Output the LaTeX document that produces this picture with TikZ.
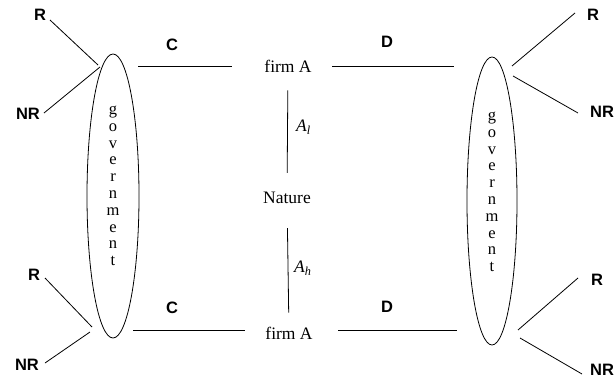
\documentclass[tikz,border=0pt]{standalone}
\usepackage{fontspec}
\setmainfont{Liberation Serif}
\setsansfont{Liberation Sans}
\usetikzlibrary{shapes.geometric}
\begin{document}
\begin{tikzpicture}[x=1pt,y=-1pt,
  lbl/.style={font=\sffamily\bfseries\fontsize{16.5}{16.5}\selectfont, inner sep=0},
  txt/.style={font=\fontsize{17.5}{17.5}\selectfont, inner sep=0},
  govtxt/.style={font=\fontsize{16.5}{16.8}\selectfont, inner sep=0, align=center},
  gov/.style={draw, ellipse, inner sep=0, line width=0.8},
  ln/.style={line width=0.8}]
\useasboundingbox (0,0) rectangle (616,383);
% governments
\node[gov, minimum width=52, minimum height=284] (gL) at (113,196) {};
\node[gov, minimum width=50, minimum height=288] (gR) at (492,201) {};
\node[govtxt] (gLt) at (113,186) {g\\o\\v\\e\\r\\n\\m\\e\\n\\t};
\node[govtxt] (gRt) at (492,192) {g\\o\\v\\e\\r\\n\\m\\e\\n\\t};
% central nodes
\node[txt] (firmT) at (288,66) {firm A};
\node[txt] (nature) at (287,198) {Nature};
\node[txt] (firmB) at (289,333) {firm A};
\node[txt, anchor=west] (al) at (296,127) {\itshape A\textsubscript{l}};
\node[txt, anchor=west] (ah) at (294,268) {\itshape A\textsubscript{h}};
\draw[ln, shorten <=18, shorten >=19] (firmT) -- (nature);
\draw[ln, shorten <=24, shorten >=14] (nature) -- (firmB);
% labels
\node[lbl] (rTL) at (40,15) {R};
\node[lbl] (nrTL) at (28,114) {NR};
\node[lbl] (cT) at (172,45) {C};
\node[lbl] (dT) at (387,42) {D};
\node[lbl] (rTR) at (593,15) {R};
\node[lbl] (nrTR) at (602,112) {NR};
\node[lbl] (rBL) at (34,275) {R};
\node[lbl] (nrBL) at (27,365) {NR};
\node[lbl] (cB) at (172,308) {C};
\node[lbl] (dB) at (387,307) {D};
\node[lbl] (rBR) at (597,280) {R};
\node[lbl] (nrBR) at (602,370) {NR};
% line ends
\coordinate (a1) at (50,20);   \coordinate (a2) at (98,65);
\coordinate (b1) at (44,113);  \coordinate (b2) at (100,67);
\coordinate (c1) at (138,66);  \coordinate (c2) at (232,66);
\coordinate (d1) at (332,66);  \coordinate (d2) at (454,66);
\coordinate (e1) at (512,66);  \coordinate (e2) at (575,13);
\coordinate (f1) at (513,76);  \coordinate (f2) at (578,113);
\coordinate (g1) at (45,278);  \coordinate (g2) at (92,327);
\coordinate (h1) at (45,363);  \coordinate (h2) at (90,332);
\coordinate (i1) at (133,330); \coordinate (i2) at (245,330);
\coordinate (j1) at (338,330); \coordinate (j2) at (457,330);
\coordinate (k1) at (518,330); \coordinate (k2) at (578,278);
\coordinate (m1) at (520,338); \coordinate (m2) at (582,374);
\foreach \p in {a,b,c,d,e,f,g,h,i,j,k,m}
  \draw[ln] (\p1) -- (\p2);
\end{tikzpicture}
\end{document}
